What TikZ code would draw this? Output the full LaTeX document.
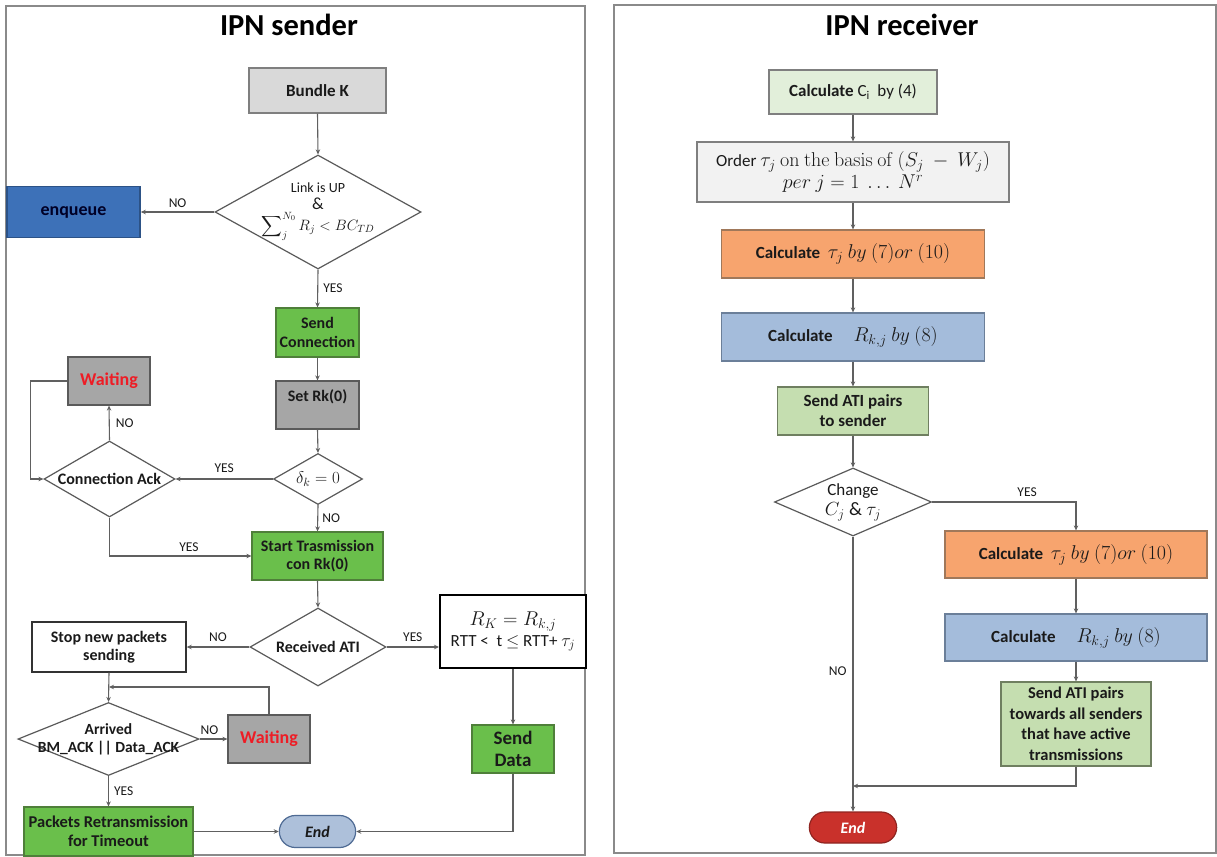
\RequirePackage{fix-cm}
\documentclass[tikz,border=0pt]{standalone}
\usepackage{amsmath}
\usepackage[no-math]{fontspec}
\setmainfont{Carlito}
\usetikzlibrary{shapes.geometric,shapes.misc,arrows.meta}
\definecolor{lc}{HTML}{606060}
\definecolor{bdc}{HTML}{5A5A5A}
\definecolor{pnl}{HTML}{8A8A8A}
\definecolor{bkf}{HTML}{D9D9D9}
\definecolor{bkd}{HTML}{7F7F7F}
\definecolor{enqf}{HTML}{3D71B8}
\definecolor{enqd}{HTML}{2C5286}
\definecolor{grn}{HTML}{6ABF4B}
\definecolor{grnd}{HTML}{4F7F3A}
\definecolor{gry}{HTML}{A6A6A6}
\definecolor{wred}{HTML}{EE1C25}
\definecolor{endlf}{HTML}{ADC0DA}
\definecolor{endld}{HTML}{4F6B94}
\definecolor{cif}{HTML}{E2EFDA}
\definecolor{ordf}{HTML}{F2F2F2}
\definecolor{orf}{HTML}{F7A46E}
\definecolor{ord}{HTML}{A0785A}
\definecolor{blf}{HTML}{A4BCDB}
\definecolor{bld}{HTML}{6B7F99}
\definecolor{pgf}{HTML}{C5DEB0}
\definecolor{pgd}{HTML}{6F7F60}
\definecolor{endrf}{HTML}{C9312B}
\definecolor{endrd}{HTML}{8F2420}
\definecolor{txt}{HTML}{1A1A1A}
\newcommand{\fbx}{\fontsize{16}{18.5}\selectfont\bfseries}
\newcommand{\frb}{\fontsize{17}{20}\selectfont\bfseries}
\newcommand{\flb}{\fontsize{13.5}{16}\selectfont}
\newcommand{\fmth}{\fontsize{20}{22}\selectfont}
\begin{document}
\begin{tikzpicture}[x=1pt,y=-1pt,
  line/.style={draw=lc, line width=1.1pt},
  arr/.style={line, -{Stealth[length=5pt,width=4.5pt]}},
  box/.style={draw=bdc, line width=1.2pt, inner sep=2pt, align=center, font=\fbx, text=txt},
  dia/.style={diamond, draw=bdc, line width=1.2pt, inner sep=0pt, fill=white},
  lab/.style={font=\flb, inner sep=0pt, text=txt},
  panel/.style={draw=pnl, line width=1.5pt},
  ttl/.style={font=\fontsize{30.5}{34}\selectfont\bfseries, text=black}]
\useasboundingbox (0,0) rectangle (1217,856);
\fill[white] (0,0) rectangle (1217,856);
% panels
\draw[panel] (6,6) rectangle (585,855);
\draw[panel] (614,5) rectangle (1216,853);
\node[ttl] (t1) at (289,25) {IPN sender};
\node[ttl] (t2) at (902,25) {IPN receiver};

% ---------------- sender ----------------
\node[box, fill=bkf, draw=bkd, minimum width=137, minimum height=45, font=\fontsize{17}{20}\selectfont\bfseries] (bk) at (317.5,90.5) {Bundle K};
\node[dia, minimum width=206, minimum height=114,
  label={[font=\fontsize{14}{17}\selectfont, align=center, text=txt]center:{Link is UP\\[0pt]{\fontsize{17}{17}\selectfont\&}\\[1pt]{\fontsize{15}{15}\selectfont$\displaystyle\sum\nolimits_j^{N_0} R_j < BC_{TD}$}}}] (d1) at (318,212) {};
\node[box, fill=enqf, draw=enqd, line width=1.6pt, minimum width=133, minimum height=51, font=\fontsize{18}{20}\selectfont\bfseries, text=black!85!blue] (enq) at (73.5,212) {enqueue};
\node[box, fill=grn, draw=grnd, minimum width=83, minimum height=49] (sc) at (317.5,332.5) {Send\\Connection};
\node[box, fill=gry, minimum width=83, minimum height=48] (set) at (317.5,405) {Set Rk(0)\\{}};
\node[dia, minimum width=89, minimum height=51,
  label={[font=\fontsize{17}{18}\selectfont, text=txt]center:{$\delta_k = 0$}}] (dk) at (318,479) {};
\node[dia, minimum width=131, minimum height=76,
  label={[font=\fbx, text=txt]center:{Connection Ack}}] (ca) at (109.5,479) {};
\node[box, fill=gry, minimum width=82, minimum height=48, font=\fontsize{18}{20}\selectfont\bfseries, text=wred] (w1) at (109,381) {Waiting};
\node[box, fill=grn, draw=grnd, minimum width=131, minimum height=48] (st) at (317.5,556) {Start Trasmission\\con Rk(0)};
\node[dia, minimum width=136, minimum height=78,
  label={[font=\fbx, text=txt]center:{Received ATI}}] (rati) at (318,647) {};
\node[box, fill=white, draw=black!80, line width=1.4pt, minimum width=154, minimum height=50] (stop) at (109,647) {Stop new packets\\sending};
\node[box, fill=white, draw=black, line width=2pt, minimum width=146, minimum height=73, font=\fontsize{17}{21}\selectfont] (rk) at (513,631.5) {{\fmth$R_K = R_{k,j}$}\\RTT <\ \ t $\leq$ RTT+ {\fontsize{18}{20}\selectfont$\tau_j$}};
\node[dia, minimum width=181, minimum height=73,
  label={[font=\fontsize{15.5}{18}\selectfont\bfseries, align=center, text=txt]center:{Arrived\\BM\_ACK || Data\_ACK}}] (arr) at (108.5,739) {};
\node[box, fill=gry, minimum width=82, minimum height=48, font=\fontsize{18}{20}\selectfont\bfseries, text=wred] (w2) at (269,739) {Waiting};
\node[box, fill=grn, draw=grnd, minimum width=169, minimum height=49, font=\fontsize{16.5}{19}\selectfont\bfseries] (pr) at (108.5,831.5) {Packets Retransmission\\for Timeout};
\node[rounded rectangle, draw=endld, fill=endlf, line width=1.2pt, minimum width=83, minimum height=32, font=\fontsize{16}{18}\selectfont\bfseries\itshape, text=txt] (endL) at (317.5,831.5) {End};
\node[box, fill=grn, draw=grnd, minimum width=82, minimum height=48, font=\fontsize{19}{22}\selectfont\bfseries] (sd) at (513,749) {Send\\Data};
\coordinate (j1) at (109,687);

% sender connectors
\draw[arr] (bk.south) -- (d1.north);
\draw[arr] (d1.west) -- node[lab, above=4pt] {NO} (enq.east);
\draw[arr] (d1.south) -- node[lab, right=5pt] {YES} (sc.north);
\draw[arr] (sc.south) -- (set.north);
\draw[arr] (set.south) -- (dk.north);
\draw[arr] (dk.west) -- node[lab, above=6pt] {YES} (ca.east);
\draw[arr] (ca.north) -- node[lab, right=6pt] {NO} (w1.south);
\draw[arr] (w1.west) -- ++(-37,0) |- (ca.west);
\draw[arr] (ca.south) |- node[lab, above=4pt, pos=0.78] {YES} (st.west);
\draw[arr] (dk.south) -- node[lab, right=4pt] {NO} (st.north);
\draw[arr] (st.south) -- (rati.north);
\draw[arr] (rati.west) -- node[lab, above=5pt] {NO} (stop.east);
\draw[arr] (rati.east) -- node[lab, above=5pt] {YES} (rati.east -| rk.west);
\draw[arr] (stop.south) -- (arr.north);
\draw[arr] (w2.north) |- (j1);
\draw[arr] (arr.east) -- node[lab, above=4pt, xshift=-4pt] {NO} (w2.west);
\draw[arr] (arr.south) -- node[lab, right=5pt] {YES} (pr.north);
\draw[arr] (pr.east) -- (endL.west);
\draw[arr] (rk.south) -- (sd.north);
\draw[arr] (sd.south) |- (endL.east);

% ---------------- receiver ----------------
\node[box, fill=cif, draw=bkd, minimum width=168, minimum height=44, font=\fontsize{17}{20}\selectfont] (ci) at (853,92) {{\bfseries Calculate} C\textsubscript{i}\ \ by (4)};
\node[box, fill=ordf, draw=bkd, minimum width=312, minimum height=60, font=\fontsize{17}{22}\selectfont] (ordr) at (853,172) {Order {\fontsize{20}{23}\selectfont$\tau_j\ \mathrm{on\ the\ basis\ of}\ (S_j\ -\ W_j)$}\\{\fontsize{20}{23}\selectfont$per\ j = 1\ \dots\ N^r$}};
\node[box, fill=orf, draw=ord, minimum width=263, minimum height=48, font=\frb] (o1) at (853,254) {Calculate\ \ {\fmth$\tau_j\ by\ (7)or\ (10)$}};
\node[box, fill=blf, draw=bld, minimum width=263, minimum height=48, font=\frb] (b1) at (853,337) {Calculate\quad\ {\fmth$R_{k,j}\ by\ (8)$}};
\node[box, fill=pgf, draw=pgd, minimum width=151, minimum height=48, font=\frb] (sa) at (853,411) {Send ATI pairs\\to sender};
\node[dia, minimum width=157, minimum height=68,
  label={[font=\fontsize{17}{20}\selectfont, align=center, text=txt]center:{Change\\{\fontsize{19}{20}\selectfont$C_j$ \& $\tau_j$}}}] (ch) at (853,502) {};
\node[box, fill=orf, draw=ord, minimum width=262, minimum height=47, font=\frb] (o2) at (1076,554.5) {Calculate\ \ {\fmth$\tau_j\ by\ (7)or\ (10)$}};
\node[box, fill=blf, draw=bld, minimum width=262, minimum height=47, font=\frb] (b2) at (1076,637.5) {Calculate\quad\ {\fmth$R_{k,j}\ by\ (8)$}};
\node[box, fill=pgf, draw=pgd, minimum width=150, minimum height=84, font=\fontsize{16.5}{20.5}\selectfont\bfseries] (sa2) at (1076,724) {Send ATI pairs\\towards all senders\\that have active\\transmissions};
\node[rounded rectangle, draw=endrd, fill=endrf, line width=1.2pt, minimum width=94, minimum height=31, font=\fontsize{16}{18}\selectfont\bfseries\itshape, text=white] (endR) at (853,827.5) {End};
\coordinate (j2) at (853,786);

% receiver connectors
\draw[arr] (ci.south) -- (ordr.north);
\draw[arr] (ordr.south) -- (o1.north);
\draw[arr] (o1.south) -- (b1.north);
\draw[arr] (b1.south) -- (sa.north);
\draw[arr] (sa.south) -- (ch.north);
\draw[arr] (ch.east) -| node[lab, above=5pt, pos=0.33] {YES} (o2.north);
\draw[arr] (o2.south) -- (b2.north);
\draw[arr] (b2.south) -- (sa2.north);
\draw[arr] (sa2.south) |- (j2);
\draw[arr] (ch.south) -- node[lab, left=6pt, pos=0.49] {NO} (endR.north);
\end{tikzpicture}
\end{document}
